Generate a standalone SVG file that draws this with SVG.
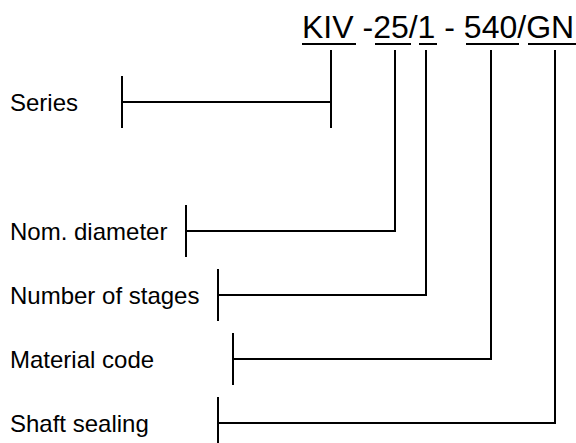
<svg xmlns="http://www.w3.org/2000/svg" width="576" height="443" viewBox="0 0 576 443">
<style>
.lbl{font-family:"Liberation Sans",Arial,sans-serif;font-size:24px;fill:#000}
.ttl{font-family:"Liberation Sans",Arial,sans-serif;font-size:32px;fill:#000}
.ln{stroke:#000;stroke-width:2;fill:none;stroke-linecap:butt}
</style>
<rect width="576" height="443" fill="#fff"/>
<g id="code">
<text class="ttl" x="302" y="37.5">KIV -25/1 - 540/GN</text>
<path class="ln" d="M302 44H356M375 44H411M419 44H437M466 44H519M528 44H576"/>
</g>
<g id="series">
<text class="lbl" x="10" y="110.5">Series</text>
<path class="ln" d="M122 76V128"/>
</g>
<g id="nom-diameter">
<text class="lbl" x="10" y="239.5">Nom. diameter</text>
<path class="ln" d="M186 205V257"/>
</g>
<g id="number-of-stages">
<text class="lbl" x="10" y="303.5">Number of stages</text>
<path class="ln" d="M218 269V321"/>
</g>
<g id="material-code">
<text class="lbl" x="10" y="367.5">Material code</text>
<path class="ln" d="M233 333V385"/>
</g>
<g id="shaft-sealing">
<text class="lbl" x="10" y="431.5">Shaft sealing</text>
<path class="ln" d="M218 397V449"/>
</g>
<g id="connectors">
<path class="ln" d="M331 50V128M331 102H122"/>
<path class="ln" d="M395 50V231H186"/>
<path class="ln" d="M426 50V295H218"/>
<path class="ln" d="M491 50V359H233"/>
<path class="ln" d="M555 50V423H218"/>
</g>
</svg>
